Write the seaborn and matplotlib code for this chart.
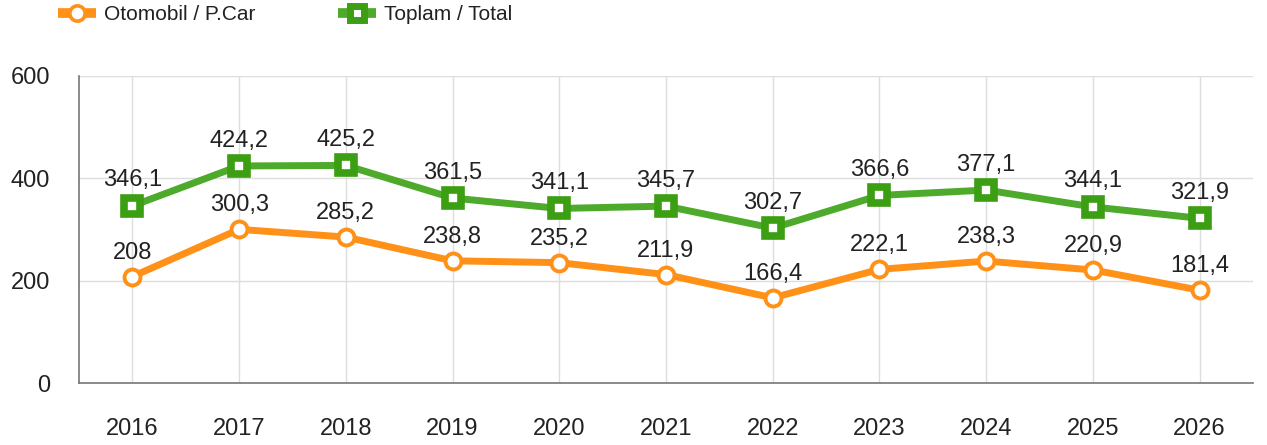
import matplotlib
matplotlib.use("Agg")
import matplotlib.pyplot as plt
from matplotlib.lines import Line2D
import seaborn as sns
import pandas as pd

years = ["2016", "2017", "2018", "2019", "2020", "2021", "2022", "2023", "2024", "2025", "2026"]
otomobil = [208, 300.3, 285.2, 238.8, 235.2, 211.9, 166.4, 222.1, 238.3, 220.9, 181.4]
toplam = [346.1, 424.2, 425.2, 361.5, 341.1, 345.7, 302.7, 366.6, 377.1, 344.1, 321.9]
labels_oto = ["208", "300,3", "285,2", "238,8", "235,2", "211,9", "166,4", "222,1", "238,3", "220,9", "181,4"]
labels_top = ["346,1", "424,2", "425,2", "361,5", "341,1", "345,7", "302,7", "366,6", "377,1", "344,1", "321,9"]
series_names = ["Otomobil / P.Car", "Toplam / Total"]
yticks = [0, 200, 400, 600]

sns.set_style("white")
plt.rcParams["font.family"] = ["Liberation Sans", "DejaVu Sans"]

ORANGE = "#FF9119"
GREEN = "#4DAA2A"
GREEN_EDGE = "#3C9E12"
TXT = "#222222"

fig = plt.figure(figsize=(12.67, 4.45), dpi=100)
ax = fig.add_axes([79 / 1267, 1 - 383 / 445, (1253 - 79) / 1267, (383 - 76) / 445])

df_o = pd.DataFrame({"year": years, "value": otomobil})
df_t = pd.DataFrame({"year": years, "value": toplam})

sns.lineplot(data=df_o, x="year", y="value", ax=ax, color=ORANGE, lw=5,
             marker="o", markersize=11.5, markerfacecolor="white",
             markeredgecolor=ORANGE, markeredgewidth=2.8, zorder=3)
sns.lineplot(data=df_t, x="year", y="value", ax=ax, color=GREEN, lw=5,
             marker="s", markersize=11.5, markerfacecolor="white",
             markeredgecolor=GREEN_EDGE, markeredgewidth=5.5, zorder=3)

for i, (v, t) in enumerate(zip(otomobil, labels_oto)):
    ax.annotate(t, (i, v), xytext=(0, 13), textcoords="offset points",
                ha="center", va="baseline", fontsize=17, color=TXT, zorder=4)
for i, (v, t) in enumerate(zip(toplam, labels_top)):
    ax.annotate(t, (i, v), xytext=(0, 14), textcoords="offset points",
                ha="center", va="baseline", fontsize=17, color=TXT, zorder=4)

ax.set_xlim(-0.5, len(years) - 0.5)
ax.set_ylim(0, 600)
ax.set_yticks(yticks)
ax.set_yticklabels([str(y) for y in yticks])
ax.set_xlabel("")
ax.set_ylabel("")

ax.grid(True, color="#DDDDDD", lw=1)
ax.set_axisbelow(True)
for s in ["top", "right"]:
    ax.spines[s].set_visible(False)
for s in ["left", "bottom"]:
    ax.spines[s].set_color("#777777")
    ax.spines[s].set_linewidth(1.2)

ax.tick_params(axis="y", length=11, width=1, color="#BBBBBB", pad=10,
               labelsize=17, labelcolor=TXT)
ax.tick_params(axis="x", length=9, width=1, color="#999999", pad=16,
               labelsize=17, labelcolor=TXT)

h1 = Line2D([], [], color=ORANGE, lw=7, marker="o", markersize=11,
            markerfacecolor="white", markeredgecolor=ORANGE, markeredgewidth=2.6,
            solid_capstyle="butt")
h2 = Line2D([], [], color=GREEN, lw=7, marker="s", markersize=10,
            markerfacecolor="white", markeredgecolor=GREEN_EDGE, markeredgewidth=5,
            solid_capstyle="butt")
for h, name, x0 in [(h1, series_names[0], 58), (h2, series_names[1], 338)]:
    fig.legend([h], [name], loc="center left", bbox_to_anchor=(x0 / 1267, 1 - 15 / 445),
               frameon=False, fontsize=15, handlelength=1.8, handletextpad=0.4,
               borderpad=0, borderaxespad=0, labelcolor=TXT)

fig.savefig("out.png", dpi=100)
